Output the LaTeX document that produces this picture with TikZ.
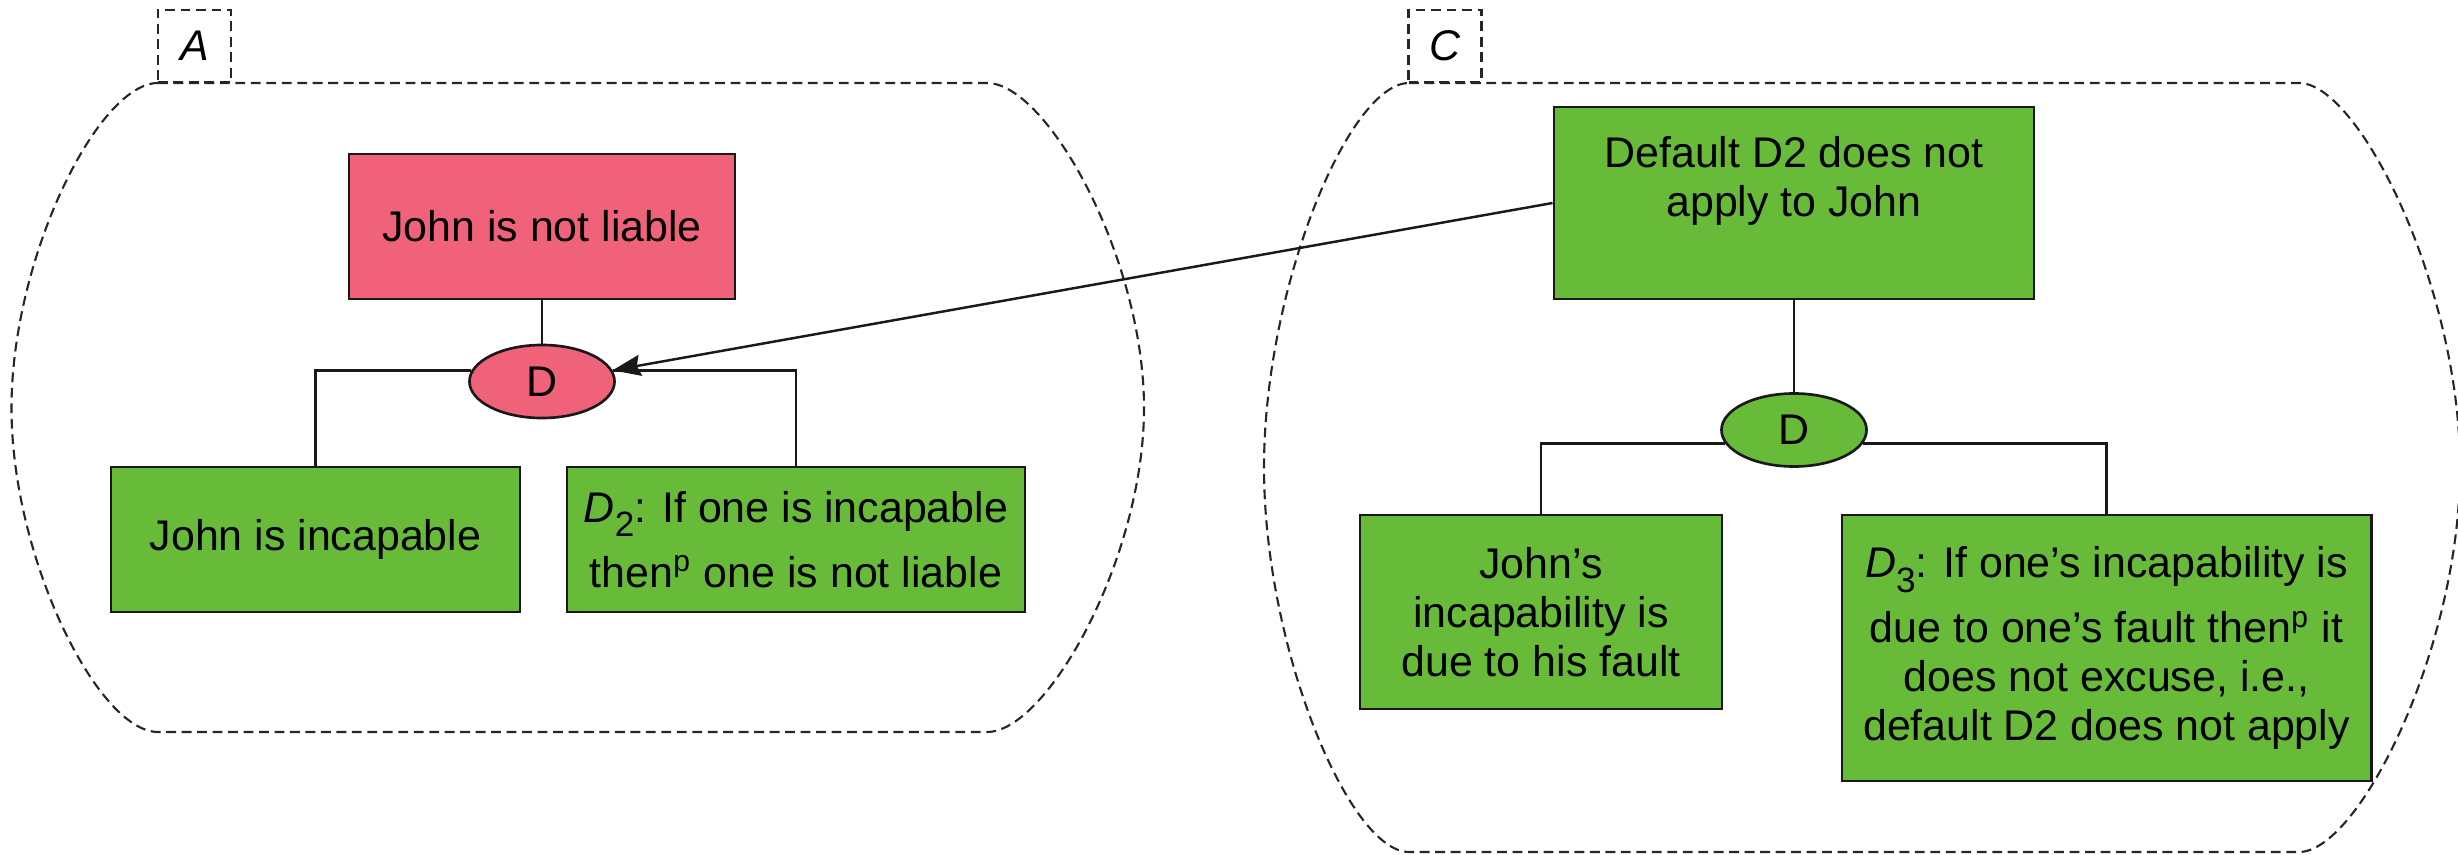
\documentclass[tikz,border=0pt]{standalone}
\usepackage{fontspec}
\setmainfont{Liberation Sans}
\usetikzlibrary{arrows.meta,shapes.geometric}

\definecolor{boxgreen}{RGB}{103,187,56}
\definecolor{boxred}{RGB}{240,98,122}

\newcommand{\subidx}[1]{\raisebox{-0.33em}{\fontsize{10}{10}\selectfont #1}}

\tikzset{
  txt/.style={font=\fontsize{12.2}{13.9}\selectfont, align=center, inner sep=0pt},
  claim/.style={txt, draw=black!90, line width=0.75pt},
  conj/.style={ellipse, draw=black!90, line width=0.75pt, inner sep=0pt,
    minimum width=1.45cm, minimum height=0.73cm,
    font=\fontsize{12.2}{13.9}\selectfont},
  frame/.style={draw=black!85, line width=0.6pt, dash pattern=on 2.8pt off 1.6pt},
  tag/.style={frame, fill=white, minimum width=0.73cm, minimum height=0.72cm,
    inner sep=0pt, font=\fontsize{12.2}{13.9}\selectfont\itshape},
  link/.style={draw=black!90, line width=0.7pt},
  attack/.style={link, -{Stealth[length=8pt,width=6pt,inset=1pt]}},
}

\begin{document}
\begin{tikzpicture}[x=0.01cm, y=-0.01cm]
\useasboundingbox (0,0) rectangle (2458,855);

% argument A
\draw[frame] (158,83) -- (987,83)
  .. controls (1047,83) and (1144,258) .. (1144,408)
  .. controls (1144,558) and (1047,732) .. (987,732) -- (158,732)
  .. controls (98,732) and (11.5,558) .. (11.5,408)
  .. controls (11.5,258) and (98,83) .. (158,83) -- cycle;
\node[tag] (tagA) at (194.5,46) {A};

% argument C
\draw[frame] (1409,83) -- (2299,83)
  .. controls (2359,83) and (2460,287.5) .. (2460,467.5)
  .. controls (2460,647.5) and (2359,852) .. (2299,852) -- (1409,852)
  .. controls (1349,852) and (1264,647.5) .. (1264,467.5)
  .. controls (1264,287.5) and (1349,83) .. (1409,83) -- cycle;
\node[tag] (tagC) at (1445,46) {C};

% nodes of A
\node[claim, fill=boxred, minimum width=3.86cm, minimum height=1.45cm]
  (notl) at (542,226.5) {John is not liable};
\node[conj, fill=boxred] (dA) at (542,381.5) {D};
\node[claim, fill=boxgreen, minimum width=4.09cm, minimum height=1.45cm]
  (inc) at (315.5,539.5) {John is incapable};
\node[claim, fill=boxgreen, minimum width=4.58cm, minimum height=1.45cm]
  (d2) at (796,539.5)
  {\textit{D}\subidx{2}: If one is incapable\\[4.5pt]
   then\textsuperscript{p} one is not liable};

% nodes of C
\node[claim, fill=boxgreen, minimum width=4.8cm, minimum height=1.92cm]
  (def) at (1794,203) {};
\node[txt] (deftext) at (1794,181) {Default D2 does not\\apply to John};
\node[conj, fill=boxgreen] (dC) at (1794,430) {D};
\node[claim, fill=boxgreen, minimum width=3.62cm, minimum height=1.94cm]
  (jf) at (1541,612) {John’s\\incapability is\\due to his fault};
\node[claim, fill=boxgreen, minimum width=5.29cm, minimum height=2.66cm]
  (d3) at (2106.5,648)
  {\textit{D}\subidx{3}: If one’s incapability is\\[4.5pt]
   due to one’s fault then\textsuperscript{p} it\\
   does not excuse, i.e.,\\
   default D2 does not apply};

% connectors
\draw[link] (notl.south) -- (dA.north);
\draw[link] (dA.171) -| (inc.north);
\draw[link] (dA.9) -| (d2.north);
\draw[link] (def.south) -- (dC.north);
\draw[link] (dC.191) -| (jf.north);
\draw[link] (dC.-11) -| (d3.north);
\draw[attack] (def.west) -- (dA.9);
\end{tikzpicture}
\end{document}
